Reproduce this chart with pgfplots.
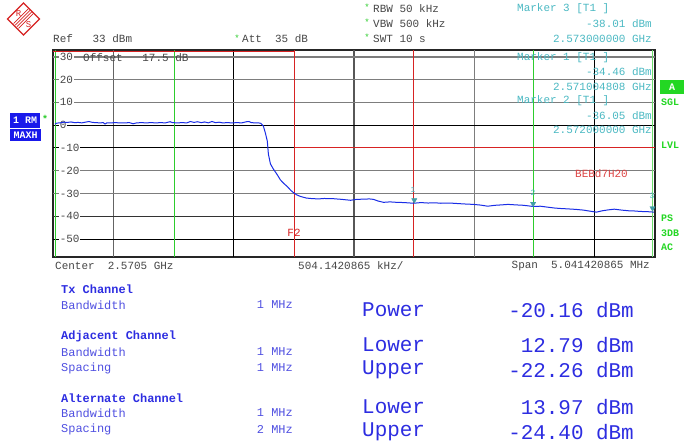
\documentclass[border=0pt]{standalone}
\usepackage{fontspec}
\setmainfont{Liberation Mono}
\usepackage{pgfplots}
\pgfplotsset{compat=1.18}

\definecolor{trace}{RGB}{25,45,230}
\definecolor{gridgray}{RGB}{125,125,125}
\definecolor{limred}{RGB}{215,35,35}
\definecolor{chgreen}{RGB}{45,205,45}
\definecolor{mkteal}{RGB}{75,185,195}
\definecolor{hdrgray}{RGB}{70,70,70}
\definecolor{tblblue}{RGB}{45,45,225}
\definecolor{tblblue2}{RGB}{80,80,225}
\definecolor{rmblue}{RGB}{25,25,235}
\definecolor{sidegreen}{RGB}{35,215,35}

\newcommand\fs[1]{\fontsize{#1}{#1}\selectfont}

% spectrum trace, x = offset from 2.5705 GHz in MHz, y = dBm
\pgfplotstableread{
f lvl
-2.504 0.4
-2.490 0.9
-2.460 1.0
-2.430 1.3
-2.400 1.2
-2.370 1.4
-2.340 1.1
-2.310 1.2
-2.280 1.0
-2.250 1.3
-2.220 1.6
-2.190 1.2
-2.160 1.1
-2.130 1.0
-2.100 1.1
-2.085 0.5
-2.070 1.0
-2.040 1.0
-2.000 1.1
-1.960 1.0
-1.920 1.0
-1.880 1.1
-1.850 0.6
-1.820 1.0
-1.780 1.1
-1.740 1.0
-1.700 1.1
-1.660 1.0
-1.620 1.1
-1.580 1.0
-1.540 1.5
-1.520 1.1
-1.480 1.0
-1.440 1.1
-1.400 1.0
-1.370 1.6
-1.340 1.2
-1.310 1.5
-1.280 1.1
-1.250 1.4
-1.220 1.0
-1.190 1.6
-1.160 1.1
-1.130 1.3
-1.100 1.0
-1.060 1.1
-1.020 1.0
-0.980 1.1
-0.940 1.0
-0.900 1.5
-0.880 1.6
-0.860 1.1
-0.830 1.0
-0.801 1.0
-0.780 0.8
-0.759 -0.4
-0.742 -3.5
-0.726 -7.0
-0.717 -12.7
-0.700 -17.0
-0.675 -19.3
-0.650 -21.2
-0.633 -22.6
-0.617 -24.0
-0.590 -25.5
-0.558 -27.0
-0.530 -28.6
-0.508 -29.6
-0.480 -30.6
-0.449 -31.3
-0.400 -32.0
-0.365 -32.2
-0.300 -32.4
-0.250 -32.2
-0.172 -32.3
-0.100 -32.6
-0.029 -33.0
0.020 -32.6
0.080 -32.5
0.130 -32.4
0.164 -32.6
0.200 -33.3
0.248 -33.9
0.300 -33.7
0.360 -33.9
0.420 -34.0
0.500 -34.3
0.560 -34.0
0.620 -34.2
0.680 -34.1
0.726 -34.3
0.800 -34.2
0.860 -34.4
0.920 -34.6
1.000 -34.8
1.060 -35.1
1.120 -35.6
1.180 -35.2
1.240 -35.0
1.290 -34.8
1.350 -35.0
1.420 -35.2
1.500 -35.7
1.560 -35.6
1.620 -36.0
1.680 -36.4
1.730 -36.6
1.800 -36.8
1.860 -37.0
1.920 -37.3
1.980 -37.8
2.030 -38.2
2.080 -37.6
2.130 -37.2
2.180 -36.9
2.240 -37.3
2.300 -37.6
2.350 -37.7
2.400 -37.9
2.460 -38.0
2.512 -38.2
}\tracedata

\begin{document}
\begin{tikzpicture}[x=1bp,y=-1bp]
\fill[white] (0,0) rectangle (684,445);
\useasboundingbox (0,0) rectangle (684,445);

\begin{axis}[
  at={(53bp,-50bp)}, anchor=north west,
  scale only axis, width=602bp, height=207bp,
  xmin=-2.52071, xmax=2.52071, ymin=-57.9, ymax=33,
  xtick=\empty, ytick=\empty,
  axis line style={draw=black!85, line width=1.6bp},
]
% vertical grid
\draw[gridgray!80!black, line width=1.1bp] (axis cs:-2.01657,-57.9) -- (axis cs:-2.01657,33);
\draw[black, line width=0.8bp] (axis cs:-1.00829,-57.9) -- (axis cs:-1.00829,33);
\draw[gridgray!70!black, line width=1.6bp] (axis cs:0,-57.9) -- (axis cs:0,33);
\draw[gridgray, line width=1.1bp] (axis cs:1.00829,-57.9) -- (axis cs:1.00829,33);
\draw[black, line width=0.8bp] (axis cs:2.01657,-57.9) -- (axis cs:2.01657,33);
% horizontal grid
\draw[gridgray, line width=1.5bp] (axis cs:-2.52071,30) -- (axis cs:2.52071,30);
\pgfplotsinvokeforeach{20,10,-20,-30}{
  \draw[gridgray, line width=1.2bp] (axis cs:-2.52071,#1) -- (axis cs:2.52071,#1);
}
\draw[black, line width=0.9bp] (axis cs:-2.52071,0) -- (axis cs:2.52071,0);
\draw[black!80, line width=1.0bp] (axis cs:-2.52071,-40) -- (axis cs:2.52071,-40);
\draw[black, line width=0.9bp] (axis cs:-2.52071,-50) -- (axis cs:2.52071,-50);
\draw[black, line width=0.9bp] (axis cs:-2.52071,-10) -- (axis cs:-0.5,-10);
% channel lines
\draw[chgreen, line width=1.1bp] (axis cs:-2.5,-57.9) -- (axis cs:-2.5,33);
\draw[chgreen, line width=1.1bp] (axis cs:-1.5,-57.9) -- (axis cs:-1.5,33);
\draw[chgreen, line width=1.1bp] (axis cs:1.5,-57.9) -- (axis cs:1.5,33);
\draw[chgreen!70, line width=1.0bp] (axis cs:2.5,-57.9) -- (axis cs:2.5,33);
\draw[limred, line width=1.1bp] (axis cs:-0.5,-57.9) -- (axis cs:-0.5,33);
\draw[limred, line width=1.1bp] (axis cs:0.5,-57.9) -- (axis cs:0.5,33);
\draw[limred, line width=1.1bp] (axis cs:-2.52071,32.5) -- (axis cs:-0.5,32.5);
\draw[limred, line width=1.0bp] (axis cs:-0.5,-10) -- (axis cs:2.52071,-10);
% level labels
\pgfplotsinvokeforeach{30,20,10,0,-10,-20,-30,-40,-50}{
  \node[anchor=west, fill=white, inner sep=0.6bp, text=hdrgray, font=\fs{11}]
    at ([xshift=6bp]axis cs:-2.52071,#1) {#1};
}
% trace
\addplot[trace, line width=1.0bp] table[x=f, y=lvl] {\tracedata};
% markers
\addplot[only marks, mark=triangle*, mark size=3bp, color=mkteal!85!black,
  mark options={yshift=3.5bp, rotate=180}]
  coordinates {(0.504808,-34.46) (1.5,-36.05) (2.5,-38.01)};
\end{axis}

% inside-plot texts (pixel positions)
\node[anchor=west, text=hdrgray, font=\fs{11}, inner sep=0] at (83,58) {Offset~~~17.5~dB};
\node[text=mkteal, font=\fs{8}, inner sep=0] at (413,190) {1};
\node[text=mkteal, font=\fs{8}, inner sep=0] at (533,193) {2};
\node[text=mkteal, font=\fs{8}, inner sep=0] at (652,196) {3};
\node[text=limred, font=\fs{11}, inner sep=0] at (294,233) {F2};
\node[anchor=west, text=limred!85, font=\fs{11}, inner sep=0] at (575,174) {BEBd7H20};

% logo
\draw[limred, line width=1.3bp] (23.5,3) -- (39.5,19) -- (23.5,35) -- (7.5,19) -- cycle;
\foreach \d in {-2.4,-0.8,0.8,2.4} {
  \draw[limred, line width=0.7bp] (31+\d,11+\d) -- (16+\d,26+\d);
}
\node[text=limred, font=\fs{9}, inner sep=0] at (18.5,14) {R};
\node[text=limred, font=\fs{9}, inner sep=0] at (28.5,24.5) {S};

% header
\node[anchor=west, text=hdrgray, font=\fs{11}, inner sep=0] at (53,39) {Ref~~~33~dBm};
\node[text=chgreen, font=\fs{9}, inner sep=0] at (237,38) {*};
\node[anchor=west, text=hdrgray, font=\fs{11}, inner sep=0] at (242,39) {Att~~35~dB};
\node[text=chgreen, font=\fs{9}, inner sep=0] at (367,7) {*};
\node[text=chgreen, font=\fs{9}, inner sep=0] at (367,22) {*};
\node[text=chgreen, font=\fs{9}, inner sep=0] at (367,37) {*};
\node[anchor=west, text=hdrgray, font=\fs{11}, inner sep=0] at (373,9) {RBW~50~kHz};
\node[anchor=west, text=hdrgray, font=\fs{11}, inner sep=0] at (373,24) {VBW~500~kHz};
\node[anchor=west, text=hdrgray, font=\fs{11}, inner sep=0] at (373,39) {SWT~10~s};

% marker readouts
\node[anchor=west, text=mkteal, font=\fs{11}, inner sep=0] at (517,9) {Marker~3~[T1~]};
\node[anchor=east, text=mkteal, font=\fs{11}, inner sep=0] at (652,24) {-38.01~dBm};
\node[anchor=east, text=mkteal, font=\fs{11}, inner sep=0] at (652,39) {2.573000000~GHz};
\node[anchor=west, text=mkteal, font=\fs{11}, inner sep=0] at (517,58) {Marker~1~[T1~]};
\node[anchor=east, text=mkteal, font=\fs{11}, inner sep=0] at (652,72) {-34.46~dBm};
\node[anchor=east, text=mkteal, font=\fs{11}, inner sep=0] at (652,87) {2.571004808~GHz};
\node[anchor=west, text=mkteal, font=\fs{11}, inner sep=0] at (517,101) {Marker~2~[T1~]};
\node[anchor=east, text=mkteal, font=\fs{11}, inner sep=0] at (652,116) {-36.05~dBm};
\node[anchor=east, text=mkteal, font=\fs{11}, inner sep=0] at (652,130) {2.572000000~GHz};

% left side boxes
\node[anchor=north west, fill=rmblue, text=white, font=\fs{10}\bfseries, inner sep=0,
  minimum width=30bp, minimum height=15bp] at (10,112.5) {1~RM};
\node[anchor=north west, fill=rmblue, text=white, font=\fs{10}\bfseries, inner sep=0,
  minimum width=31bp, minimum height=12.5bp] at (10,128.5) {MAXH};
\node[text=chgreen, font=\fs{10}\bfseries, inner sep=0] at (45,119) {*};

% right side labels
\node[anchor=north west, fill=sidegreen, text=white, font=\fs{10}\bfseries, inner sep=0,
  minimum width=24bp, minimum height=14bp] at (660,80) {A};
\foreach \t/\yy in {SGL/102, LVL/145, PS/218, 3DB/233, AC/247} {
  \node[anchor=west, text=sidegreen, font=\fs{10}\bfseries, inner sep=0] at (661,\yy) {\t};
}

% bottom axis texts
\node[anchor=west, text=hdrgray, font=\fs{11}, inner sep=0] at (55,266) {Center~~2.5705~GHz};
\node[anchor=west, text=hdrgray, font=\fs{11}, inner sep=0] at (298,266) {504.1420865~kHz/};
\node[anchor=east, text=hdrgray, font=\fs{11}, inner sep=0] at (650,266) {Span~~5.041420865~MHz};

% channel power table
\node[anchor=west, text=tblblue, font=\fs{12}\bfseries, inner sep=0] at (61,289) {Tx~Channel};
\node[anchor=west, text=tblblue2, font=\fs{12}, inner sep=0] at (61,305) {Bandwidth};
\node[anchor=east, text=tblblue2, font=\fs{12}, inner sep=0] at (293,305) {1~MHz};
\node[anchor=west, text=tblblue, font=\fs{12}\bfseries, inner sep=0] at (61,336) {Adjacent~Channel};
\node[anchor=west, text=tblblue2, font=\fs{12}, inner sep=0] at (61,352) {Bandwidth};
\node[anchor=east, text=tblblue2, font=\fs{12}, inner sep=0] at (293,352) {1~MHz};
\node[anchor=west, text=tblblue2, font=\fs{12}, inner sep=0] at (61,368) {Spacing};
\node[anchor=east, text=tblblue2, font=\fs{12}, inner sep=0] at (293,368) {1~MHz};
\node[anchor=west, text=tblblue, font=\fs{12}\bfseries, inner sep=0] at (61,398) {Alternate~Channel};
\node[anchor=west, text=tblblue2, font=\fs{12}, inner sep=0] at (61,413) {Bandwidth};
\node[anchor=east, text=tblblue2, font=\fs{12}, inner sep=0] at (293,413) {1~MHz};
\node[anchor=west, text=tblblue2, font=\fs{12}, inner sep=0] at (61,429) {Spacing};
\node[anchor=east, text=tblblue2, font=\fs{12}, inner sep=0] at (293,429) {2~MHz};

\foreach \lab/\val/\yy in {Power/-20.16/310, Lower/12.79/345, Upper/-22.26/370,
                           Lower/13.97/407, Upper/-24.40/432} {
  \node[anchor=west, text=tblblue, font=\fs{21}, inner sep=0] at (362,\yy) {\lab};
  \node[anchor=east, text=tblblue, font=\fs{21}, inner sep=0] at (634,\yy) {\val~dBm};
}
\end{tikzpicture}
\end{document}
